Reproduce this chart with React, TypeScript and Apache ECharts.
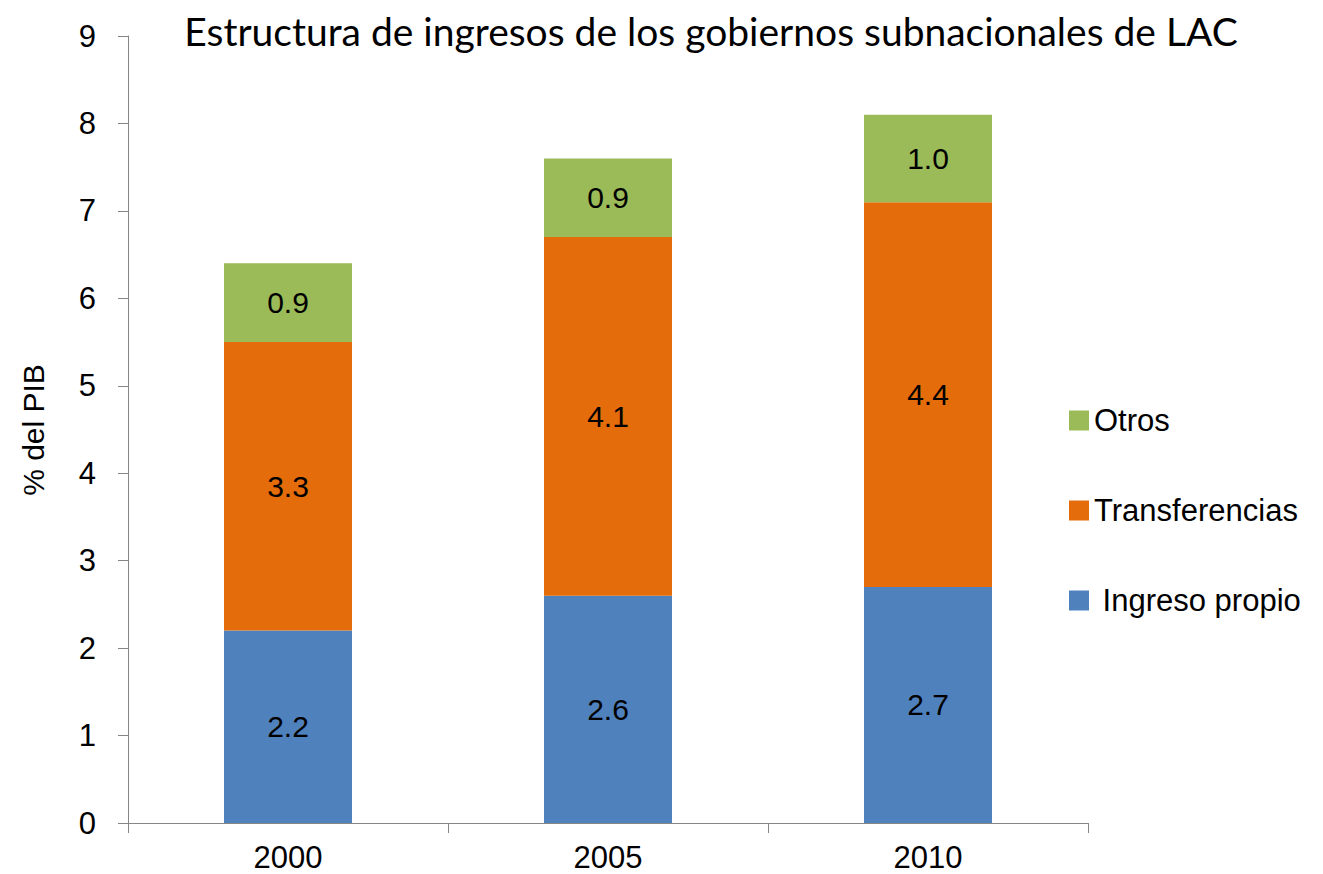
import React, { useEffect, useRef } from "react";
import * as echarts from "echarts";

const categories = ["2000", "2005", "2010"];
const ingresoPropio = [2.2, 2.6, 2.7];
const transferencias = [3.3, 4.1, 4.4];
const otros = [0.9, 0.9, 1.0];
const yTicks = [0, 9, 1];

const FONT = "'Liberation Sans', Arial, sans-serif";

export default function App() {
  const ref = useRef<HTMLDivElement>(null);
  useEffect(() => {
    const chart = echarts.init(ref.current!, null, { renderer: "svg" });
    const label = {
      show: true,
      position: "inside",
      color: "#000",
      fontSize: 30,
      fontFamily: FONT,
      formatter: (p: any) => Number(p.value).toFixed(1),
    };
    chart.setOption({
      animation: false,
      title: {
        text: "Estructura de ingresos de los gobiernos subnacionales de LAC",
        left: 706,
        textAlign: "center",
        top: 6,
        textStyle: { fontFamily: "Lato, sans-serif", fontWeight: "normal", fontSize: 39, color: "#000" },
      },
      grid: { left: 128, right: 235, top: 36, bottom: 51, containLabel: false },
      legend: {
        orient: "vertical",
        left: 1064,
        top: 400,
        itemWidth: 20,
        itemHeight: 20,
        itemGap: 59,
        icon: "rect",
        data: ["Otros", "Transferencias", "Ingreso propio"],
        formatter: (name: string) => (name === "Ingreso propio" ? "\u00a0" + name : name),
        textStyle: { fontFamily: FONT, fontSize: 31, color: "#000", lineHeight: 30 },
      },
      xAxis: {
        type: "category",
        data: categories,
        axisLine: { lineStyle: { color: "#868686", width: 1 } },
        axisTick: { show: true, length: 10, lineStyle: { color: "#868686" } },
        axisLabel: { fontFamily: FONT, fontSize: 31, color: "#000", margin: 21, lineHeight: 26 },
      },
      yAxis: {
        type: "value",
        min: yTicks[0],
        max: yTicks[1],
        interval: yTicks[2],
        splitLine: { show: false },
        axisLine: { show: true, lineStyle: { color: "#868686", width: 1 } },
        axisTick: { show: true, length: 10, lineStyle: { color: "#868686" } },
        axisLabel: { fontFamily: FONT, fontSize: 31, color: "#000", margin: 32 },
      },
      graphic: [
        {
          type: "text",
          x: 33,
          y: 430,
          rotation: Math.PI / 2,
          style: {
            text: "% del PIB",
            fontFamily: FONT,
            fontSize: 30,
            fill: "#000",
            align: "center",
            verticalAlign: "middle",
          },
        },
      ],
      series: [
        {
          name: "Ingreso propio",
          type: "bar",
          stack: "total",
          barWidth: 128,
          data: ingresoPropio,
          itemStyle: { color: "#4F81BD" },
          label,
        },
        {
          name: "Transferencias",
          type: "bar",
          stack: "total",
          barWidth: 128,
          data: transferencias,
          itemStyle: { color: "#E46C0A" },
          label,
        },
        {
          name: "Otros",
          type: "bar",
          stack: "total",
          barWidth: 128,
          data: otros,
          itemStyle: { color: "#9BBB59" },
          label,
        },
      ],
    });
    return () => chart.dispose();
  }, []);
  return <div ref={ref} style={{ width: 1323, height: 874, position: "absolute", left: 0, top: 0 }} />;
}
